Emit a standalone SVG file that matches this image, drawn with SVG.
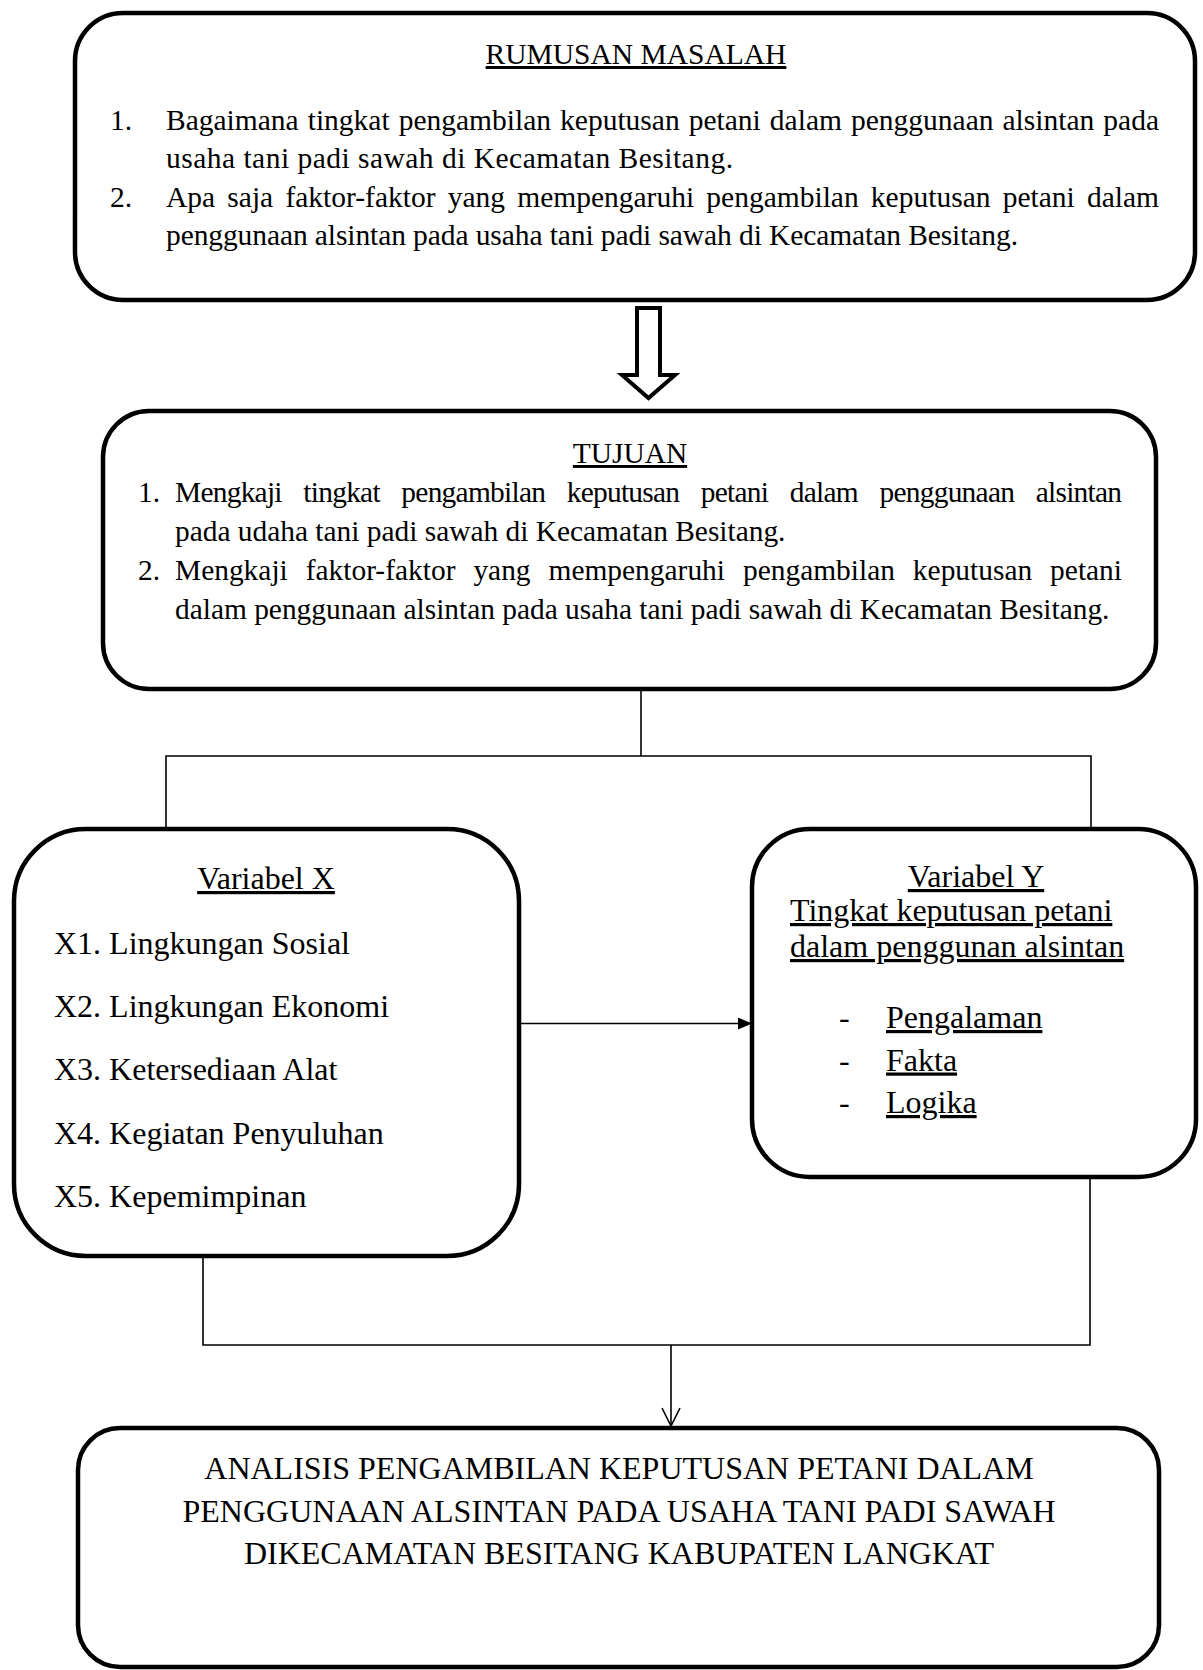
<svg xmlns="http://www.w3.org/2000/svg" width="1203" height="1670" viewBox="0 0 1203 1670">
<style>
.box{fill:#fff;stroke:#000;stroke-width:4.5}
.t{font-family:"Liberation Serif","Times New Roman",serif;fill:#000}
.s29{font-size:29.5px}
.s294{font-size:29.4px}
.s32{font-size:32px}
.u{text-decoration:underline}
.mid{text-anchor:middle}
.ln{fill:none;stroke:#000;stroke-width:1.6}
</style>
<defs>
<marker id="fill" markerUnits="userSpaceOnUse" viewBox="0 0 14 12" refX="14" refY="6" markerWidth="14" markerHeight="12" orient="auto">
<path d="M0,0 L14,6 L0,12 z" fill="#000"/>
</marker>
<marker id="open" markerUnits="userSpaceOnUse" viewBox="-2 -11 22 22" refX="18" refY="0" markerWidth="22" markerHeight="22" orient="auto">
<path d="M0,-9 L18,0 L0,9" fill="none" stroke="#000" stroke-width="1.6"/>
</marker>
</defs>

<g id="connectors">
<polygon points="637,308 660,308 660,375 675,375 648.5,398 622,375 637,375" fill="#fff" stroke="#000" stroke-width="4" stroke-linejoin="miter"/>
<polyline class="ln" points="641,689 641,756"/>
<polyline class="ln" points="166,829 166,756 1091,756 1091,829"/>
<line class="ln" x1="519" y1="1023.5" x2="752" y2="1023.5" marker-end="url(#fill)"/>
<polyline class="ln" points="203,1256 203,1345 1090,1345 1090,1177"/>
<line class="ln" x1="671" y1="1345" x2="671" y2="1426" marker-end="url(#open)"/>
</g>

<g id="rumusan">
<rect class="box" x="75" y="13" width="1120" height="287" rx="48" ry="48"/>
<text class="t s29 u mid" x="636" y="64">RUMUSAN MASALAH</text>
<text class="t s29" x="110" y="130">1.</text>
<text class="t s29" x="166" y="130" word-spacing="1.7" textLength="993" lengthAdjust="spacing">Bagaimana tingkat pengambilan keputusan petani dalam penggunaan alsintan pada</text>
<text class="t s29" x="166" y="168" textLength="567" lengthAdjust="spacing">usaha tani padi sawah di Kecamatan Besitang.</text>
<text class="t s29" x="110" y="207">2.</text>
<text class="t s29" x="166" y="207" word-spacing="4.8" textLength="993" lengthAdjust="spacing">Apa saja faktor-faktor yang mempengaruhi pengambilan keputusan petani dalam</text>
<text class="t s29" x="166" y="245" textLength="852" lengthAdjust="spacing">penggunaan alsintan pada usaha tani padi sawah di Kecamatan Besitang.</text>
</g>

<g id="tujuan">
<rect class="box" x="103" y="411" width="1053" height="278" rx="46" ry="46"/>
<text class="t s294 u mid" x="630" y="463">TUJUAN</text>
<text class="t s294" x="138" y="502">1.</text>
<text class="t s294" x="175" y="502" word-spacing="14.9" textLength="947" lengthAdjust="spacing">Mengkaji tingkat pengambilan keputusan petani dalam penggunaan alsintan</text>
<text class="t s294" x="175" y="541">pada udaha tani padi sawah di Kecamatan Besitang.</text>
<text class="t s294" x="138" y="580">2.</text>
<text class="t s294" x="175" y="580" word-spacing="10.6" textLength="947" lengthAdjust="spacing">Mengkaji faktor-faktor yang mempengaruhi pengambilan keputusan petani</text>
<text class="t s294" x="175" y="619">dalam penggunaan alsintan pada usaha tani padi sawah di Kecamatan Besitang.</text>
</g>

<g id="variabel-x">
<rect class="box" x="14" y="829" width="505" height="427" rx="72" ry="72"/>
<text class="t s32 u mid" x="266" y="889">Variabel X</text>
<text class="t s32" x="54" y="954">X1. Lingkungan Sosial</text>
<text class="t s32" x="54" y="1017">X2. Lingkungan Ekonomi</text>
<text class="t s32" x="54" y="1080">X3. Ketersediaan Alat</text>
<text class="t s32" x="54" y="1144">X4. Kegiatan Penyuluhan</text>
<text class="t s32" x="54" y="1207">X5. Kepemimpinan</text>
</g>

<g id="variabel-y">
<rect class="box" x="752" y="829" width="444" height="348" rx="58" ry="58"/>
<text class="t s32 u mid" x="976" y="887">Variabel Y</text>
<text class="t s32 u" x="790" y="921">Tingkat keputusan petani</text>
<text class="t s32 u" x="790" y="957">dalam penggunan alsintan</text>
<text class="t s32" x="839" y="1028">-</text>
<text class="t s32 u" x="886" y="1028">Pengalaman</text>
<text class="t s32" x="839" y="1070.5">-</text>
<text class="t s32 u" x="886" y="1070.5">Fakta</text>
<text class="t s32" x="839" y="1113">-</text>
<text class="t s32 u" x="886" y="1113">Logika</text>
</g>

<g id="analisis">
<rect class="box" x="78" y="1428" width="1081" height="239" rx="42" ry="42"/>
<text class="t s32 mid" x="619" y="1479">ANALISIS PENGAMBILAN KEPUTUSAN PETANI DALAM</text>
<text class="t s32 mid" x="619" y="1522">PENGGUNAAN ALSINTAN PADA USAHA TANI PADI SAWAH</text>
<text class="t s32 mid" x="619" y="1564">DIKECAMATAN BESITANG KABUPATEN LANGKAT</text>
</g>
</svg>
